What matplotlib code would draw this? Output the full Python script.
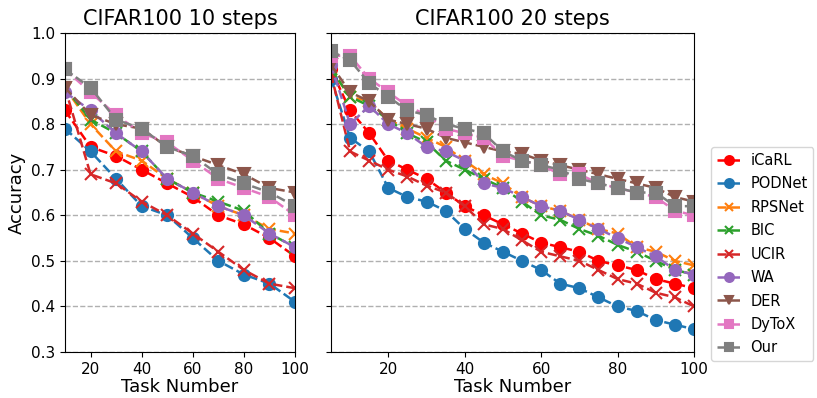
import matplotlib
matplotlib.use("Agg")
import matplotlib.pyplot as plt

# task numbers
x10 = [10, 20, 30, 40, 50, 60, 70, 80, 90, 100]
x20 = [5, 10, 15, 20, 25, 30, 35, 40, 45, 50, 55, 60, 65, 70, 75, 80, 85, 90, 95, 100]

methods = ["iCaRL", "PODNet", "RPSNet", "BIC", "UCIR", "WA", "DER", "DyToX", "Our"]

# CIFAR100 10 steps
acc10 = {
    "iCaRL":  [0.83, 0.75, 0.73, 0.70, 0.67, 0.64, 0.60, 0.58, 0.55, 0.51],
    "PODNet": [0.79, 0.74, 0.68, 0.62, 0.60, 0.55, 0.50, 0.47, 0.45, 0.41],
    "RPSNet": [0.88, 0.80, 0.74, 0.72, 0.68, 0.65, 0.62, 0.60, 0.57, 0.56],
    "BIC":    [0.88, 0.81, 0.78, 0.74, 0.68, 0.65, 0.63, 0.61, 0.56, 0.53],
    "UCIR":   [0.88, 0.69, 0.67, 0.63, 0.60, 0.56, 0.52, 0.48, 0.45, 0.44],
    "WA":     [0.87, 0.83, 0.78, 0.74, 0.68, 0.65, 0.62, 0.60, 0.56, 0.53],
    "DER":    [0.88, 0.82, 0.80, 0.79, 0.75, 0.73, 0.71, 0.69, 0.66, 0.65],
    "DyToX":  [0.92, 0.87, 0.82, 0.78, 0.76, 0.72, 0.68, 0.66, 0.64, 0.60],
    "Our":    [0.92, 0.88, 0.81, 0.79, 0.75, 0.73, 0.69, 0.67, 0.65, 0.62],
}

# CIFAR100 20 steps
acc20 = {
    "iCaRL":  [0.92, 0.83, 0.78, 0.72, 0.70, 0.68, 0.65, 0.62, 0.60, 0.58,
               0.56, 0.54, 0.53, 0.52, 0.50, 0.49, 0.48, 0.46, 0.45, 0.44],
    "PODNet": [0.90, 0.77, 0.74, 0.66, 0.64, 0.63, 0.61, 0.57, 0.54, 0.52,
               0.50, 0.48, 0.45, 0.44, 0.42, 0.40, 0.39, 0.37, 0.36, 0.35],
    "RPSNet": [0.92, 0.86, 0.85, 0.81, 0.79, 0.77, 0.75, 0.72, 0.69, 0.67,
               0.64, 0.62, 0.61, 0.59, 0.57, 0.56, 0.53, 0.52, 0.50, 0.49],
    "BIC":    [0.92, 0.86, 0.84, 0.81, 0.78, 0.76, 0.72, 0.70, 0.68, 0.66,
               0.63, 0.60, 0.59, 0.57, 0.555, 0.535, 0.52, 0.50, 0.48, 0.47],
    "UCIR":   [0.91, 0.74, 0.72, 0.70, 0.685, 0.665, 0.65, 0.62, 0.58, 0.57,
               0.545, 0.52, 0.51, 0.50, 0.48, 0.46, 0.45, 0.43, 0.42, 0.40],
    "WA":     [0.93, 0.80, 0.84, 0.80, 0.78, 0.75, 0.74, 0.72, 0.67, 0.66,
               0.64, 0.62, 0.61, 0.59, 0.57, 0.55, 0.53, 0.51, 0.48, 0.47],
    "DER":    [0.93, 0.87, 0.85, 0.81, 0.80, 0.79, 0.77, 0.76, 0.75, 0.74,
               0.735, 0.72, 0.71, 0.70, 0.69, 0.68, 0.67, 0.66, 0.64, 0.63],
    "DyToX":  [0.95, 0.95, 0.90, 0.87, 0.84, 0.82, 0.79, 0.78, 0.77, 0.73,
               0.72, 0.71, 0.69, 0.69, 0.67, 0.66, 0.65, 0.64, 0.61, 0.60],
    "Our":    [0.96, 0.94, 0.89, 0.86, 0.83, 0.82, 0.80, 0.79, 0.78, 0.74,
               0.72, 0.71, 0.70, 0.68, 0.67, 0.66, 0.65, 0.65, 0.62, 0.62],
}

styles = {
    "iCaRL":  ("red", "o"),
    "PODNet": ("tab:blue", "o"),
    "RPSNet": ("tab:orange", "x"),
    "BIC":    ("tab:green", "x"),
    "UCIR":   ("tab:red", "x"),
    "WA":     ("tab:purple", "o"),
    "DER":    ("tab:brown", "v"),
    "DyToX":  ("tab:pink", "s"),
    "Our":    ("tab:gray", "s"),
}

fig = plt.figure(figsize=(8.17, 3.98), dpi=100)
ax1 = fig.add_axes([65 / 817, 1 - 352 / 398, 230 / 817, 319 / 398])
ax2 = fig.add_axes([331 / 817, 1 - 352 / 398, 363 / 817, 319 / 398], sharey=ax1)

for ax, xs, acc in [(ax1, x10, acc10), (ax2, x20, acc20)]:
    for m in methods:
        c, mk = styles[m]
        ax.plot(xs, acc[m], linestyle="--", color=c, marker=mk, markersize=8,
                linewidth=1.8, markeredgewidth=1.5, label=m)
    ax.grid(True, axis="y", linestyle="--", color="#b0b0b0", linewidth=1)
    ax.set_xticks([20, 40, 60, 80, 100])
    ax.set_xlabel("Task Number", fontsize=13, labelpad=1)
    ax.tick_params(labelsize=11)

ax1.set_xlim(10, 100)
ax2.set_xlim(5, 100)
ax1.set_ylim(0.3, 1.0)
ax1.set_yticks([0.3, 0.4, 0.5, 0.6, 0.7, 0.8, 0.9, 1.0])
ax2.tick_params(axis="y", labelleft=False)
ax1.set_ylabel("Accuracy", fontsize=13)
ax1.set_title("CIFAR100 10 steps", fontsize=15)
ax2.set_title("CIFAR100 20 steps", fontsize=15)

handles, labels = ax1.get_legend_handles_labels()
fig.legend(handles, labels, loc="upper left", bbox_to_anchor=(711 / 817, 1 - 147 / 398),
           fontsize=10.5, markerscale=0.8, handlelength=1.6, handletextpad=0.7,
           borderaxespad=0, borderpad=0.4, labelspacing=0.58)

plt.savefig("out.png", dpi=100)
